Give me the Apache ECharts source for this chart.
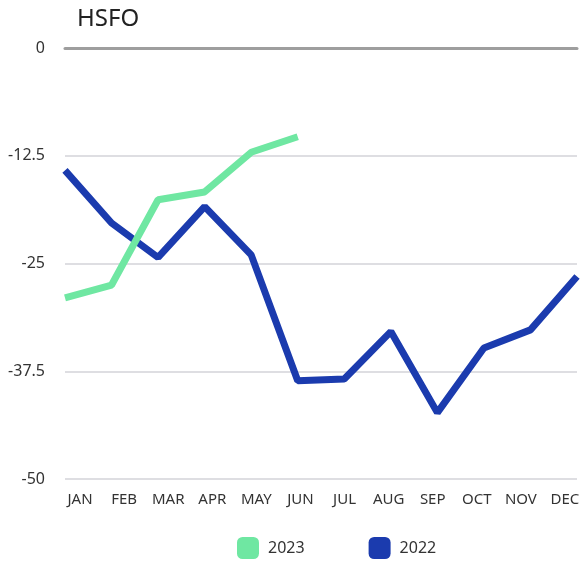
<!DOCTYPE html>
<html>
<head>
<meta charset="utf-8">
<script src="https://cdn.jsdelivr.net/npm/echarts@6/dist/echarts.min.js"></script>
<style>
  html, body { margin: 0; padding: 0; background: #fff; }
  #chart { width: 587px; height: 562px; }
</style>
</head>
<body>
<div id="chart"></div>
<script>
const months = ['JAN', 'FEB', 'MAR', 'APR', 'MAY', 'JUN', 'JUL', 'AUG', 'SEP', 'OCT', 'NOV', 'DEC']
const hsfo2023 = [-29.0, -27.5, -17.6, -16.7, -12.1, -10.3]
const hsfo2022 = [-14.2, -20.3, -24.3, -18.4, -24.0, -38.6, -38.4, -32.9, -42.3, -34.8, -32.7, -26.5]
const yTicks = [-50, -37.5, -25, -12.5, 0]

const green = '#6fe7a2'
const blue = '#1b3bae'

const chart = echarts.init(document.getElementById('chart'))
chart.setOption({
  backgroundColor: '#fff',
  animation: false,
  textStyle: { fontFamily: 'Noto Sans' },
  title: {
    text: 'HSFO',
    left: 72,
    top: 2,
    textStyle: { fontSize: 24, fontWeight: 'normal', color: '#222', fontFamily: 'Noto Sans' }
  },
  legend: {
    data: ['2023', '2022'],
    left: 232,
    top: 532,
    icon: 'roundRect',
    itemWidth: 22,
    itemHeight: 22,
    itemGap: 64,
    textStyle: { fontSize: 16, color: '#333', padding: [0, 0, 0, 4] }
  },
  grid: [
    { left: 65, right: 10, top: 48, bottom: 83 },
    // month labels sit on their own band axis, a little offset from the points
    { left: 58, right: -5, top: 48, bottom: 83 }
  ],
  xAxis: [{
    type: 'category',
    gridIndex: 0,
    data: months,
    boundaryGap: false,
    axisLine: { show: false },
    axisTick: { show: false },
    axisLabel: { show: false },
    splitLine: { show: false }
  }, {
    // the 0 line along the top of the grid
    type: 'category',
    gridIndex: 0,
    data: months,
    position: 'top',
    boundaryGap: false,
    axisLine: { show: true, lineStyle: { color: '#9e9e9e', width: 3 } },
    axisTick: { show: false },
    axisLabel: { show: false }
  }, {
    type: 'category',
    gridIndex: 1,
    data: months,
    boundaryGap: true,
    axisLine: { show: false },
    axisTick: { show: false },
    axisLabel: { color: '#333', fontSize: 15, margin: 13, interval: 0 }
  }],
  yAxis: [{
    type: 'value',
    gridIndex: 0,
    min: yTicks[0],
    max: yTicks[yTicks.length - 1],
    interval: 12.5,
    axisLine: { show: false },
    axisTick: { show: false },
    axisLabel: { color: '#333', fontSize: 16, margin: 20 },
    splitLine: { lineStyle: { color: '#dedee2', width: 2 } }
  }, {
    type: 'value',
    gridIndex: 1,
    min: yTicks[0],
    max: yTicks[yTicks.length - 1],
    show: false
  }],
  series: [
    {
      name: '2022',
      type: 'line',
      data: hsfo2022,
      symbol: 'none',
      color: blue,
      lineStyle: { width: 7, color: blue }
    },
    {
      name: '2023',
      type: 'line',
      data: hsfo2023,
      symbol: 'none',
      color: green,
      lineStyle: { width: 7, color: green }
    }
  ]
})
</script>
</body>
</html>
